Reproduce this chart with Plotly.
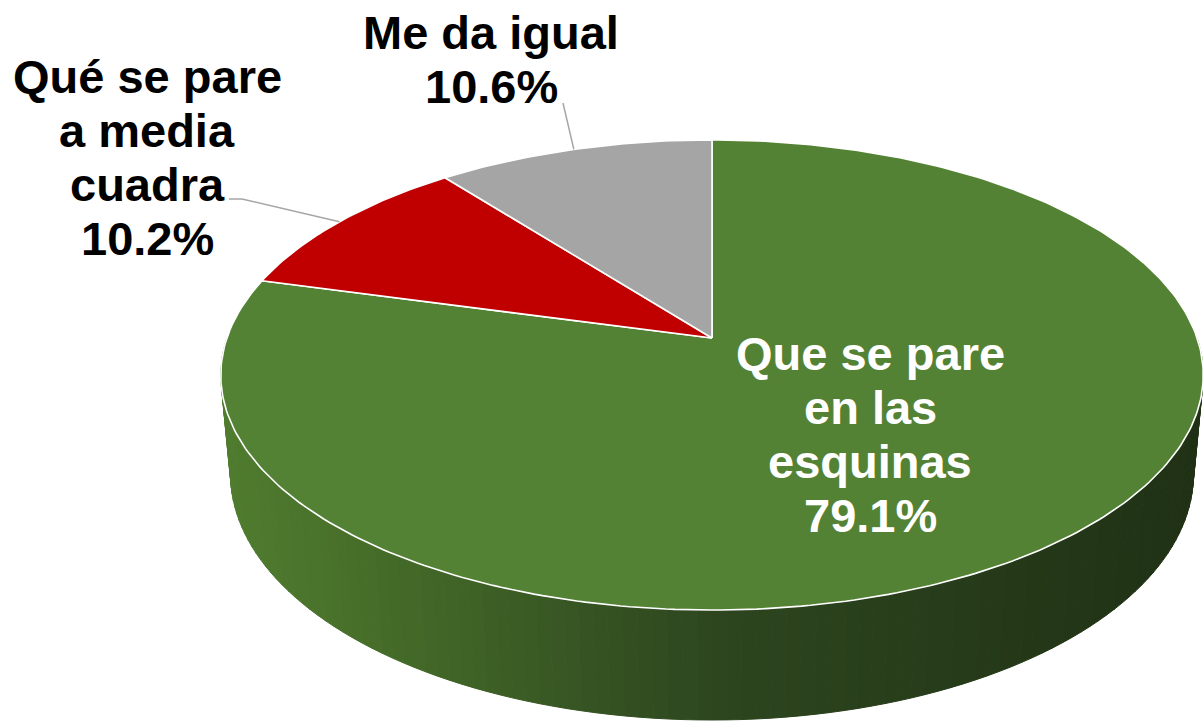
import numpy as np
import plotly.graph_objects as go

# ---- data -------------------------------------------------------------
categories = ["Que se pare en las esquinas", "Qué se pare a media cuadra", "Me da igual"]
shares = [79.1, 10.2, 10.6]
label_lines = [["Que se pare", "en las", "esquinas"],
               ["Qué se pare", "a media", "cuadra"],
               ["Me da igual"]]
top_colors = ["#548235", "#C00000", "#A5A5A5"]

# ---- canvas / projection of the tilted disc ---------------------------
W, H = 1203, 723
CX, CY = 712, 338          # screen position of the disc centre
FOCAL = 2716.0             # focal length (px per unit radius at distance 1)
DIST = 5.599               # camera distance in disc radii
TILT = np.radians(28.2)    # elevation of the camera
THICK = 0.2344             # disc thickness in radii


def project(theta, z=0.0):
    """theta: clockwise angle from the far point; z: 0 = top face, -THICK = bottom."""
    theta = np.asarray(theta, dtype=float)
    x3 = np.sin(theta)
    yf = np.cos(theta)
    s, c = np.sin(TILT), np.cos(TILT)
    depth = DIST + yf * c - z * s
    up = yf * s + z * c
    return CX + FOCAL * x3 / depth, CY - FOCAL * up / depth


fig = go.Figure()

# ---- side wall (only the front half is visible) -----------------------
# shading runs from lighter green on the left to near-black green on the right
side_stops = [(0.0, (80, 124, 47)), (0.12, (72, 112, 42)), (0.5, (45, 70, 31)), (1.0, (32, 49, 21))]


def side_color(t):
    for (t0, c0), (t1, c1) in zip(side_stops[:-1], side_stops[1:]):
        if t <= t1:
            f = (t - t0) / (t1 - t0)
            return "rgb(%d,%d,%d)" % tuple(round(a + (b - a) * f) for a, b in zip(c0, c1))
    return "rgb(%d,%d,%d)" % side_stops[-1][1]


n_strips = 120
th = np.linspace(np.pi / 2, 3 * np.pi / 2, n_strips + 1)
tx, ty = project(th, 0.0)
bx, by = project(th, -THICK)
xmin, xmax = tx.min(), tx.max()
for i in range(n_strips):
    xs = [tx[i], tx[i + 1], bx[i + 1], bx[i], tx[i]]
    ys = [ty[i], ty[i + 1], by[i + 1], by[i], ty[i]]
    t = ((tx[i] + tx[i + 1]) / 2 - xmin) / (xmax - xmin)
    col = side_color(t)
    fig.add_trace(go.Scatter(x=xs, y=ys, mode="lines", fill="toself", fillcolor=col,
                             line=dict(color=col, width=1), hoverinfo="skip", showlegend=False))

# ---- top face slices ---------------------------------------------------
total = sum(shares)
bounds = np.concatenate([[0.0], np.cumsum(shares) / total * 2 * np.pi])
mids = []
for k, (name, col) in enumerate(zip(categories, top_colors)):
    a0, a1 = bounds[k], bounds[k + 1]
    arc = np.linspace(a0, a1, max(8, int((a1 - a0) / (2 * np.pi) * 400)))
    ax_, ay_ = project(arc)
    xs = [CX] + list(ax_) + [CX]
    ys = [CY] + list(ay_) + [CY]
    fig.add_trace(go.Scatter(x=xs, y=ys, mode="lines", fill="toself", fillcolor=col,
                             line=dict(color="white", width=1.6), name=name,
                             hoverinfo="skip", showlegend=False))
    mids.append((a0 + a1) / 2)

# ---- leader lines for the outside labels ------------------------------
lead = "#A6A6A6"
mx, my = project(mids[2])
fig.add_trace(go.Scatter(x=[563, float(mx)], y=[103, float(my)], mode="lines",
                         line=dict(color=lead, width=1.5), hoverinfo="skip", showlegend=False))
mx, my = project(mids[1])
fig.add_trace(go.Scatter(x=[229, 242, float(mx)], y=[199, 199, float(my)], mode="lines",
                         line=dict(color=lead, width=1.5), hoverinfo="skip", showlegend=False))

# ---- labels ------------------------------------------------------------
FONT = "Liberation Sans, Arial, sans-serif"
SIZE = 47
STEP = 54


def add_label(lines, cx, cy0, color):
    for j, txt in enumerate(lines):
        fig.add_annotation(x=cx, y=cy0 + j * STEP, xref="x", yref="y", text=txt,
                           showarrow=False, xanchor="center", yanchor="middle",
                           font=dict(family=FONT, size=SIZE, color=color, weight="bold"))


pct = ["%.1f%%" % v for v in shares]
add_label(label_lines[0] + [pct[0]], 870, 353, "white")
add_label(label_lines[1] + [pct[1]], 147, 76, "black")
add_label(label_lines[2] + [pct[2]], 491, 32, "black")

fig.update_xaxes(range=[0, W], visible=False, fixedrange=True)
fig.update_yaxes(range=[H, 0], visible=False, fixedrange=True)
fig.update_layout(width=W, height=H, margin=dict(l=0, r=0, t=0, b=0),
                  paper_bgcolor="white", plot_bgcolor="white", showlegend=False)

fig.write_html("out.html")
